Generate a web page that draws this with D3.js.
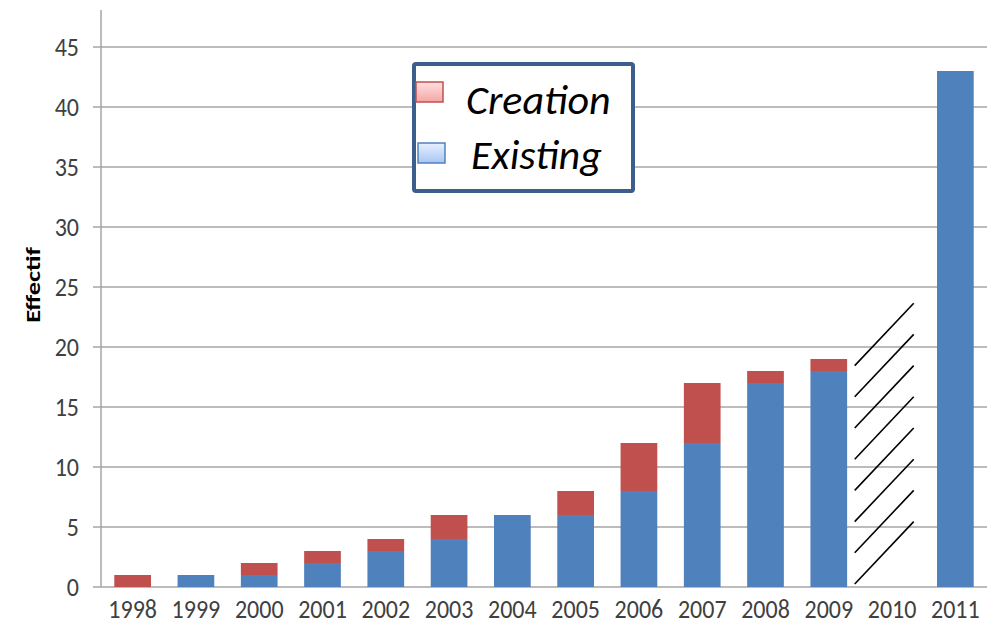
<!DOCTYPE html>
<html>
<head>
<meta charset="utf-8">
<script src="https://cdn.jsdelivr.net/npm/d3@7"></script>
<style>
  html, body { margin: 0; padding: 0; background: #fff; }
  svg { display: block; }
  text { font-family: Carlito, Calibri, "Open Sans", sans-serif; }
</style>
</head>
<body>
<svg id="chart" width="1001" height="636"></svg>
<script>
// Yearly headcount, split into existing staff and new creations
const years = ["1998","1999","2000","2001","2002","2003","2004","2005","2006","2007","2008","2009","2010","2011"];
const existing = [0, 1, 1, 2, 3, 4, 6, 6, 8, 12, 17, 18, 0, 43];
const creation = [1, 0, 1, 1, 1, 2, 0, 2, 4, 5, 1, 1, 0, 0];
const yTicks = [0, 5, 10, 15, 20, 25, 30, 35, 40, 45];
const seriesNames = ["Creation", "Existing"];
const missingYear = "2010";

const colors = { Existing: "#4F81BD", Creation: "#C0504D" };

const svg = d3.select("#chart");
const margin = { left: 101, right: 14, top: 10, bottom: 49 };
const W = 1001, H = 636;
const stretch = 1.13; // axis text is drawn slightly tall

const x = d3.scaleBand()
  .domain(years)
  .range([margin.left, W - margin.right])
  .paddingInner(0.42)
  .paddingOuter(0.21);

const y = d3.scaleLinear()
  .domain([0, 45])
  .range([587, 47]);

// Gridlines
svg.append("g")
  .selectAll("line")
  .data(yTicks)
  .join("line")
  .attr("x1", margin.left - 8)
  .attr("x2", W - margin.right)
  .attr("y1", d => y(d))
  .attr("y2", d => y(d))
  .attr("stroke", "#a6a6a6")
  .attr("stroke-width", 1.5);

// Y axis line
svg.append("line")
  .attr("x1", margin.left).attr("x2", margin.left)
  .attr("y1", margin.top).attr("y2", y(0))
  .attr("stroke", "#a6a6a6").attr("stroke-width", 1.5);

// Y tick labels
svg.append("g")
  .selectAll("text")
  .data(yTicks)
  .join("text")
  .attr("transform", d => `translate(79,${y(d)}) scale(1,${stretch})`)
  .attr("dy", "0.35em")
  .attr("text-anchor", "end")
  .attr("font-size", 24)
  .attr("fill", "#404040")
  .text(d => d);

// X tick labels
svg.append("g")
  .selectAll("text")
  .data(years)
  .join("text")
  .attr("transform", d => `translate(${x(d) + x.bandwidth() / 2},609) scale(1,${stretch})`)
  .attr("dy", "0.35em")
  .attr("text-anchor", "middle")
  .attr("font-size", 24)
  .attr("fill", "#404040")
  .text(d => d);

// Stacked bars
const rows = years.map((yr, i) => ({ year: yr, Existing: existing[i], Creation: creation[i] }));
const stack = d3.stack().keys(["Existing", "Creation"])(rows);

svg.append("g")
  .selectAll("g")
  .data(stack)
  .join("g")
  .attr("fill", d => colors[d.key])
  .selectAll("rect")
  .data(d => d.filter(s => s[1] > s[0]))
  .join("rect")
  .attr("x", d => x(d.data.year))
  .attr("width", x.bandwidth())
  .attr("y", d => y(d[1]))
  .attr("height", d => y(d[0]) - y(d[1]));

// Hatching over the year without data
const hatchBottoms = [0.25, 2.85, 5.45, 8.05, 10.65, 13.25, 15.85, 18.45];
const hatchRise = 5.2;
const hx0 = x(missingYear) - 19, hx1 = hx0 + 59;
svg.append("g")
  .selectAll("line")
  .data(hatchBottoms)
  .join("line")
  .attr("x1", hx0).attr("y1", d => y(d))
  .attr("x2", hx1).attr("y2", d => y(d + hatchRise))
  .attr("stroke", "#000")
  .attr("stroke-width", 1.6);

// Y axis title
svg.append("text")
  .attr("transform", "translate(40,285) rotate(-90) scale(1.32,1)")
  .attr("text-anchor", "middle")
  .attr("font-size", 20)
  .attr("font-weight", "bold")
  .attr("fill", "#000")
  .text("Effectif");

// Legend
const defs = svg.append("defs");
const grads = { Creation: ["#ffe0e0", "#f4a6a6"], Existing: ["#e6f0ff", "#a9c6f2"] };
Object.entries(grads).forEach(([k, c]) => {
  const g = defs.append("linearGradient").attr("id", "g" + k)
    .attr("x1", 0).attr("y1", 0).attr("x2", 0).attr("y2", 1);
  g.append("stop").attr("offset", "0%").attr("stop-color", c[0]);
  g.append("stop").attr("offset", "100%").attr("stop-color", c[1]);
});

const legend = svg.append("g");
legend.append("rect")
  .attr("x", 414).attr("y", 64)
  .attr("width", 219).attr("height", 127)
  .attr("fill", "#fff")
  .attr("stroke", "#3B5E8C")
  .attr("stroke-width", 4)
  .attr("rx", 2);

const legendRows = [
  { name: seriesNames[0], sx: 416, sy: 82, tx: 466, ty: 114, stroke: "#C0504D" },
  { name: seriesNames[1], sx: 418, sy: 143, tx: 471, ty: 169, stroke: "#4F81BD" }
];
legendRows.forEach(r => {
  legend.append("rect")
    .attr("x", r.sx).attr("y", r.sy)
    .attr("width", 27).attr("height", 20)
    .attr("fill", `url(#g${r.name})`)
    .attr("stroke", r.stroke)
    .attr("stroke-width", 1.5);
  legend.append("text")
    .attr("x", r.tx).attr("y", r.ty)
    .attr("font-size", 42)
    .attr("font-style", "italic")
    .attr("fill", "#000")
    .text(r.name);
});
</script>
</body>
</html>
